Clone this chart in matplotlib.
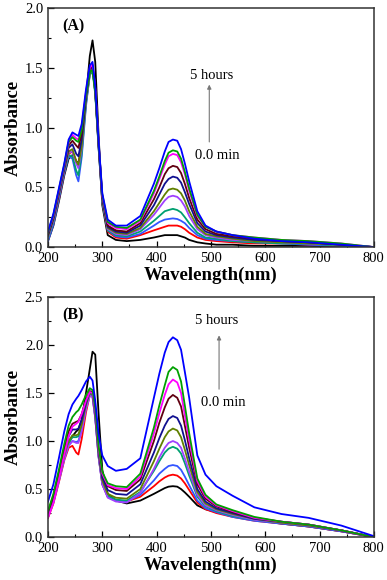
import matplotlib
matplotlib.use("Agg")
import matplotlib.pyplot as plt
from matplotlib.ticker import MultipleLocator

plt.rcParams['font.family'] = ['Liberation Serif', 'DejaVu Serif']

# %% DATA
wavelength = [200, 210, 220, 230, 238, 245, 252, 256, 262, 270, 277, 282, 287, 293, 300, 310, 325,
              345, 370, 395, 405, 415, 422, 430, 438, 445, 452, 460, 475, 490, 510, 540, 580, 630, 680, 740, 800]

line_colors = ['black', '#ff0000', '#3355ff', '#00a070', '#a040ff', '#608000',
               '#101090', '#600010', '#ff00ff', '#00a000', '#0000ff']

# panel A, 0 min -> 5 hours
spec_a0 = [0.05, 0.18, 0.38, 0.60, 0.74, 0.77, 0.72, 0.70, 0.85, 1.25, 1.60, 1.73, 1.55, 0.95, 0.35, 0.10, 0.06,
           0.05, 0.06, 0.08, 0.09, 0.10, 0.10, 0.10, 0.10, 0.09, 0.08, 0.06, 0.04, 0.03, 0.02, 0.02, 0.01, 0.01, 0.01, 0.00, 0.00]
spec_a1 = [0.06, 0.20, 0.40, 0.62, 0.78, 0.80, 0.72, 0.68, 0.85, 1.22, 1.45, 1.50, 1.30, 0.85, 0.38, 0.13, 0.08,
           0.07, 0.10, 0.14, 0.155, 0.17, 0.18, 0.18, 0.18, 0.17, 0.15, 0.12, 0.08, 0.06, 0.05, 0.04, 0.03, 0.03, 0.02, 0.01, 0.00]
spec_a2 = [0.05, 0.19, 0.40, 0.62, 0.76, 0.74, 0.60, 0.55, 0.75, 1.18, 1.45, 1.50, 1.30, 0.85, 0.38, 0.14, 0.09,
           0.08, 0.11, 0.18, 0.21, 0.23, 0.235, 0.24, 0.235, 0.22, 0.20, 0.16, 0.10, 0.07, 0.06, 0.05, 0.04, 0.03, 0.02, 0.01, 0.00]
spec_a3 = [0.07, 0.21, 0.42, 0.63, 0.77, 0.76, 0.64, 0.60, 0.78, 1.20, 1.44, 1.47, 1.28, 0.84, 0.38, 0.14, 0.10,
           0.09, 0.13, 0.22, 0.26, 0.30, 0.31, 0.32, 0.31, 0.29, 0.25, 0.20, 0.12, 0.08, 0.07, 0.05, 0.04, 0.03, 0.03, 0.01, 0.00]
spec_a4 = [0.08, 0.22, 0.43, 0.64, 0.79, 0.80, 0.70, 0.66, 0.82, 1.22, 1.46, 1.50, 1.30, 0.86, 0.40, 0.15, 0.11,
           0.10, 0.15, 0.27, 0.33, 0.39, 0.42, 0.43, 0.42, 0.39, 0.34, 0.26, 0.15, 0.10, 0.08, 0.06, 0.05, 0.04, 0.03, 0.02, 0.00]
spec_a5 = [0.09, 0.23, 0.44, 0.65, 0.80, 0.82, 0.72, 0.69, 0.84, 1.23, 1.46, 1.49, 1.30, 0.86, 0.40, 0.16, 0.12,
           0.11, 0.16, 0.30, 0.37, 0.44, 0.48, 0.49, 0.48, 0.45, 0.39, 0.30, 0.17, 0.11, 0.09, 0.07, 0.05, 0.04, 0.03, 0.02, 0.00]
spec_a6 = [0.10, 0.24, 0.45, 0.66, 0.83, 0.86, 0.78, 0.76, 0.90, 1.26, 1.48, 1.52, 1.32, 0.87, 0.41, 0.17, 0.13,
           0.12, 0.18, 0.35, 0.44, 0.53, 0.57, 0.59, 0.58, 0.54, 0.46, 0.36, 0.20, 0.13, 0.10, 0.08, 0.06, 0.05, 0.04, 0.02, 0.00]
spec_a7 = [0.11, 0.25, 0.46, 0.67, 0.85, 0.89, 0.85, 0.83, 0.95, 1.28, 1.49, 1.52, 1.32, 0.88, 0.42, 0.18, 0.14,
           0.13, 0.20, 0.40, 0.50, 0.61, 0.66, 0.68, 0.67, 0.62, 0.53, 0.41, 0.23, 0.15, 0.11, 0.09, 0.07, 0.05, 0.04, 0.02, 0.00]
spec_a8 = [0.12, 0.26, 0.47, 0.68, 0.87, 0.94, 0.91, 0.90, 1.00, 1.30, 1.50, 1.53, 1.33, 0.89, 0.43, 0.20, 0.16,
           0.15, 0.22, 0.45, 0.57, 0.69, 0.76, 0.78, 0.77, 0.71, 0.61, 0.47, 0.26, 0.17, 0.13, 0.10, 0.08, 0.06, 0.05, 0.03, 0.00]
spec_a9 = [0.12, 0.27, 0.48, 0.69, 0.88, 0.92, 0.89, 0.88, 0.98, 1.28, 1.47, 1.48, 1.30, 0.88, 0.44, 0.21, 0.17,
           0.16, 0.23, 0.47, 0.59, 0.72, 0.79, 0.81, 0.80, 0.74, 0.63, 0.49, 0.27, 0.17, 0.13, 0.10, 0.08, 0.06, 0.05, 0.03, 0.00]
spec_a10 = [0.13, 0.28, 0.49, 0.70, 0.90, 0.96, 0.94, 0.93, 1.03, 1.32, 1.52, 1.55, 1.35, 0.90, 0.45, 0.23, 0.18,
            0.18, 0.26, 0.53, 0.66, 0.80, 0.88, 0.90, 0.89, 0.82, 0.70, 0.55, 0.30, 0.18, 0.13, 0.10, 0.07, 0.05, 0.04, 0.02, 0.00]

# panel B, 0 min -> 5 hours
spec_b0 = [0.25, 0.40, 0.62, 0.85, 0.98, 1.05, 1.10, 1.12, 1.22, 1.50, 1.75, 1.93, 1.90, 1.30, 0.70, 0.45, 0.38,
           0.35, 0.38, 0.45, 0.48, 0.51, 0.525, 0.53, 0.525, 0.50, 0.465, 0.42, 0.33, 0.29, 0.26, 0.22, 0.18, 0.14, 0.11, 0.06, 0.00]
spec_b1 = [0.20, 0.35, 0.57, 0.80, 0.93, 0.95, 0.88, 0.86, 1.02, 1.30, 1.48, 1.47, 1.25, 0.85, 0.55, 0.42, 0.38,
           0.37, 0.42, 0.53, 0.58, 0.62, 0.64, 0.65, 0.64, 0.61, 0.56, 0.49, 0.36, 0.29, 0.25, 0.21, 0.17, 0.14, 0.11, 0.06, 0.00]
spec_b2 = [0.22, 0.37, 0.59, 0.82, 0.96, 1.00, 0.99, 1.00, 1.12, 1.35, 1.48, 1.46, 1.24, 0.84, 0.55, 0.42, 0.38,
           0.37, 0.44, 0.59, 0.66, 0.71, 0.74, 0.75, 0.74, 0.70, 0.63, 0.54, 0.38, 0.30, 0.26, 0.21, 0.17, 0.14, 0.11, 0.06, 0.00]
spec_b3 = [0.24, 0.39, 0.61, 0.84, 0.98, 1.04, 1.04, 1.05, 1.15, 1.37, 1.50, 1.48, 1.26, 0.86, 0.57, 0.43, 0.39,
           0.38, 0.47, 0.69, 0.79, 0.88, 0.92, 0.94, 0.92, 0.87, 0.77, 0.64, 0.42, 0.32, 0.27, 0.22, 0.18, 0.15, 0.12, 0.07, 0.00]
spec_b4 = [0.21, 0.36, 0.58, 0.81, 0.95, 1.00, 0.98, 0.98, 1.10, 1.33, 1.47, 1.46, 1.24, 0.84, 0.55, 0.41, 0.37,
           0.36, 0.46, 0.71, 0.83, 0.93, 0.98, 1.00, 0.98, 0.93, 0.82, 0.68, 0.44, 0.33, 0.28, 0.23, 0.18, 0.15, 0.12, 0.07, 0.00]
spec_b5 = [0.24, 0.39, 0.61, 0.85, 1.00, 1.06, 1.06, 1.07, 1.17, 1.38, 1.50, 1.49, 1.28, 0.88, 0.59, 0.45, 0.41,
           0.40, 0.50, 0.79, 0.92, 1.04, 1.10, 1.13, 1.11, 1.04, 0.91, 0.75, 0.47, 0.35, 0.29, 0.24, 0.19, 0.15, 0.12, 0.07, 0.00]
spec_b6 = [0.25, 0.41, 0.64, 0.88, 1.05, 1.12, 1.12, 1.13, 1.22, 1.40, 1.51, 1.50, 1.30, 0.90, 0.62, 0.49, 0.45,
           0.44, 0.55, 0.88, 1.03, 1.16, 1.23, 1.26, 1.24, 1.16, 1.01, 0.82, 0.50, 0.37, 0.30, 0.25, 0.19, 0.16, 0.13, 0.07, 0.00]
spec_b7 = [0.26, 0.43, 0.67, 0.92, 1.10, 1.18, 1.20, 1.21, 1.28, 1.43, 1.52, 1.51, 1.32, 0.93, 0.66, 0.53, 0.49,
           0.48, 0.60, 1.00, 1.19, 1.35, 1.44, 1.48, 1.45, 1.36, 1.16, 0.93, 0.55, 0.40, 0.32, 0.26, 0.20, 0.16, 0.13, 0.07, 0.00]
spec_b8 = [0.20, 0.36, 0.60, 0.86, 1.05, 1.15, 1.18, 1.20, 1.28, 1.42, 1.51, 1.50, 1.30, 0.92, 0.66, 0.54, 0.51,
           0.50, 0.63, 1.08, 1.29, 1.48, 1.59, 1.64, 1.61, 1.50, 1.27, 1.01, 0.58, 0.42, 0.33, 0.27, 0.20, 0.16, 0.13, 0.07, 0.00]
spec_b9 = [0.27, 0.45, 0.70, 0.97, 1.16, 1.25, 1.30, 1.32, 1.38, 1.48, 1.55, 1.53, 1.34, 0.95, 0.68, 0.56, 0.53,
           0.52, 0.66, 1.14, 1.37, 1.58, 1.72, 1.77, 1.74, 1.62, 1.37, 1.08, 0.61, 0.44, 0.34, 0.28, 0.21, 0.16, 0.13, 0.07, 0.00]
spec_b10 = [0.37, 0.55, 0.82, 1.10, 1.28, 1.38, 1.44, 1.47, 1.53, 1.62, 1.67, 1.63, 1.42, 1.08, 0.85, 0.74, 0.69,
            0.71, 0.82, 1.45, 1.70, 1.92, 2.03, 2.08, 2.05, 1.95, 1.72, 1.45, 0.85, 0.65, 0.53, 0.43, 0.31, 0.24, 0.20, 0.12, 0.01]

spectra_a = [spec_a0, spec_a1, spec_a2, spec_a3, spec_a4, spec_a5, spec_a6, spec_a7, spec_a8, spec_a9, spec_a10]
spectra_b = [spec_b0, spec_b1, spec_b2, spec_b3, spec_b4, spec_b5, spec_b6, spec_b7, spec_b8, spec_b9, spec_b10]


# %% PLOT
def draw_panel(ax, spectra, ymax, label, txt_hi, txt_lo, arrow):
    for spec, col in zip(spectra, line_colors):
        ax.plot(wavelength, spec, color=col, lw=1.3)
    ax.set_xlim(200, 800)
    ax.set_ylim(0, ymax)
    ax.xaxis.set_major_locator(MultipleLocator(100))
    ax.xaxis.set_minor_locator(MultipleLocator(50))
    ax.yaxis.set_major_locator(MultipleLocator(0.5))
    ax.yaxis.set_minor_locator(MultipleLocator(0.25))
    ax.tick_params(which='both', direction='in', top=False, right=False, labelsize=10.5)
    ax.tick_params(which='major', length=4, width=0.9)
    ax.tick_params(which='minor', length=2.5, width=0.8)
    for sp in ax.spines.values():
        sp.set_linewidth(1.1)
        sp.set_color('#333333')
    ax.set_xlabel('Wavelength(nm)', fontsize=13.5, fontweight='bold', labelpad=1)
    ax.set_ylabel('Absorbance', fontsize=13.5, fontweight='bold', labelpad=2)
    ax.text(0.045, 0.905, label, transform=ax.transAxes, fontsize=11.5, fontweight='bold')
    ax.text(txt_hi[0], txt_hi[1], '5 hours', fontsize=10.5, ha='center', va='center')
    ax.text(txt_lo[0], txt_lo[1], '0.0 min', fontsize=10.5, ha='center', va='center')
    ax.annotate('', xy=(arrow[0], arrow[2]), xytext=(arrow[0], arrow[1]),
                arrowprops=dict(arrowstyle='-|>', color='#777777', lw=0.8,
                                mutation_scale=6, shrinkA=0, shrinkB=0))


fig = plt.figure(figsize=(3.87, 5.80), dpi=100)
ax_a = fig.add_axes([0.124, 0.574, 0.842, 0.412])
ax_b = fig.add_axes([0.124, 0.074, 0.842, 0.414])

draw_panel(ax_a, spectra_a, 2.0, '(A)', (502, 1.44), (511, 0.77), (497, 0.88, 1.36))
draw_panel(ax_b, spectra_b, 2.5, '(B)', (510, 2.25), (522, 1.40), (515, 1.54, 2.10))

fig.savefig('out.png', dpi=100)
